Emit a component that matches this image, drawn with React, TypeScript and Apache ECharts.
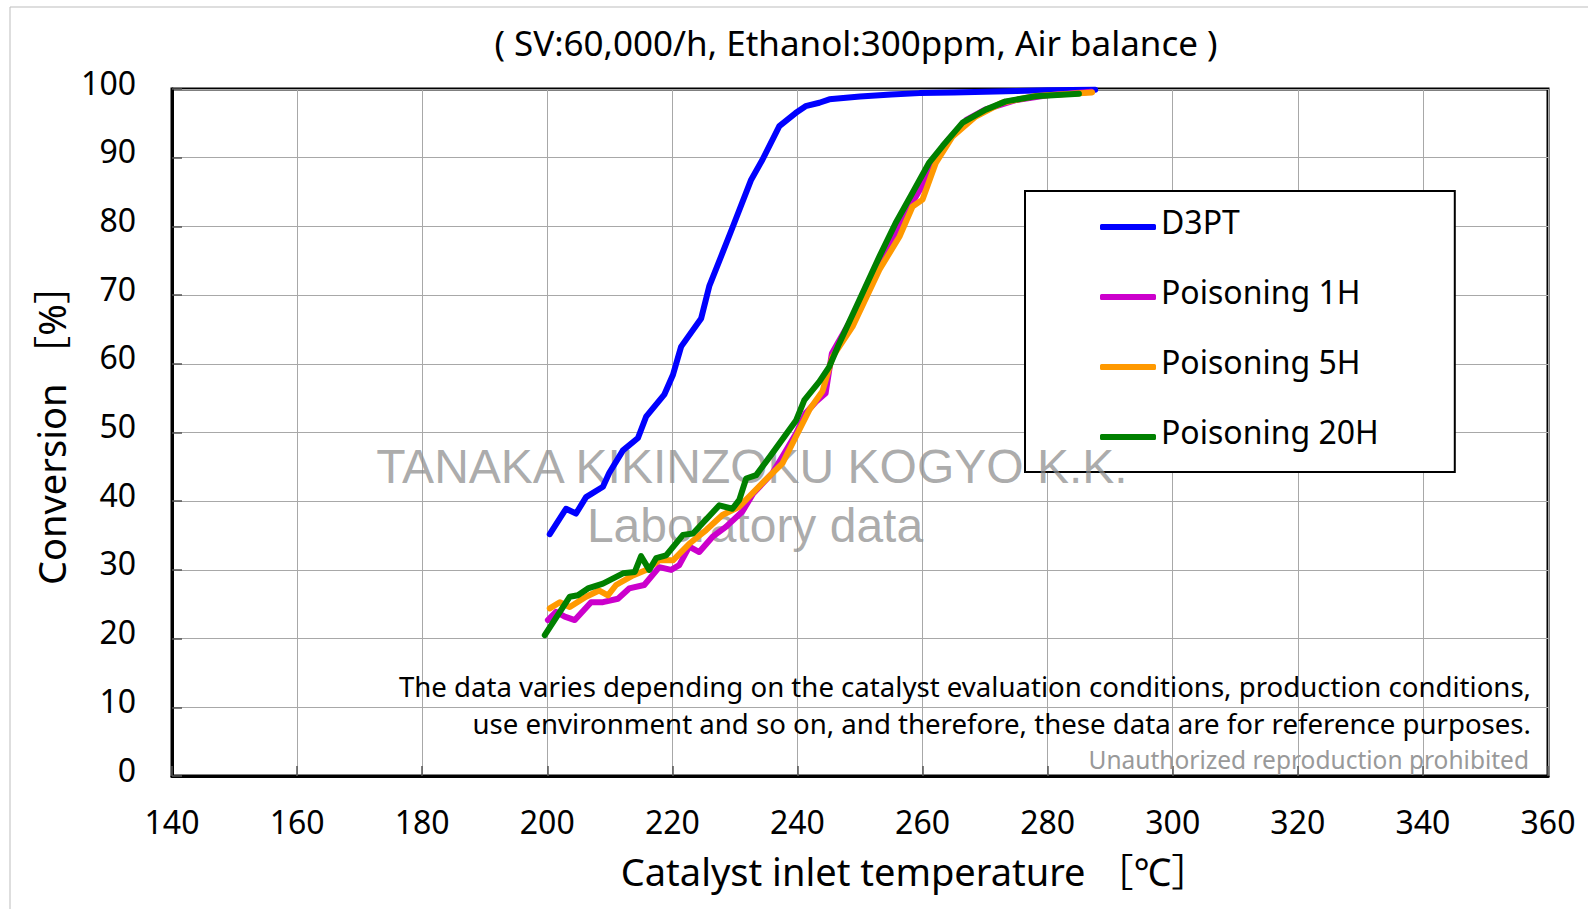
import React, { useEffect, useRef } from "react";
import * as echarts from "echarts";

// ---- Data ----
const seriesNames = ["D3PT", "Poisoning 1H", "Poisoning 5H", "Poisoning 20H"];
const seriesColors = ["#0000ff", "#cc00cc", "#ff9900", "#008000"];

const d3ptTemp = [200.4, 203.0, 204.6, 206.2, 208.9, 209.9, 212.1, 214.5, 215.8, 218.7, 220.1, 221.4, 224.6, 225.9, 228.0, 229.6, 232.6, 234.4, 237.1, 239.7, 241.3, 243.5, 245.1, 250, 255, 259.5, 265, 270, 275, 280, 287.6];
const d3ptConv = [35.2, 38.9, 38.2, 40.6, 42.1, 44.1, 47.4, 49.2, 52.3, 55.5, 58.4, 62.5, 66.6, 71.3, 76.1, 79.8, 86.8, 89.7, 94.6, 96.5, 97.5, 98.0, 98.5, 98.9, 99.2, 99.4, 99.5, 99.6, 99.7, 99.8, 99.9];

const p1hTemp = [200.1, 201.4, 202.8, 204.4, 207.0, 208.9, 211.3, 213.1, 215.5, 217.9, 219.8, 221.1, 222.7, 224.3, 226.4, 228.6, 231.2, 232.9, 236.0, 237.6, 239.8, 241.3, 243.0, 244.5, 245.5, 248, 250, 253, 256, 258.4, 260, 262, 264, 267, 270, 275, 280, 287];
const p1hConv = [22.7, 23.9, 23.2, 22.7, 25.3, 25.3, 25.8, 27.3, 27.8, 30.4, 30.0, 30.7, 33.4, 32.6, 34.8, 36.3, 38.5, 41.1, 44.1, 46.5, 49.9, 52.8, 54.5, 55.7, 61.5, 65.5, 69, 74.5, 79.5, 83.5, 86, 89.5, 92.5, 95.5, 97, 98.4, 99.1, 99.6];

const p5hTemp = [200.4, 202.0, 203.6, 206.2, 208.3, 209.7, 211.0, 213.7, 215.8, 217.9, 220.1, 222.7, 225.4, 228.0, 230.7, 234.9, 237.6, 239.2, 241.9, 244.0, 245.6, 248.8, 253.1, 256.3, 258.4, 260.0, 262.1, 264.8, 268.5, 272.7, 278.1, 287.1];
const p5hConv = [24.4, 25.3, 24.6, 26.1, 27.0, 26.3, 27.8, 29.2, 30.0, 31.4, 31.4, 33.8, 35.8, 38.0, 39.2, 43.1, 45.5, 48.4, 53.3, 56.0, 61.0, 65.4, 73.7, 78.5, 82.9, 83.9, 89.2, 93.1, 96.0, 98.0, 99.0, 99.5];

const p20hTemp = [199.6, 203.6, 204.9, 206.5, 208.9, 212.1, 214.0, 215.0, 216.3, 217.4, 219.0, 221.7, 223.3, 227.5, 229.6, 230.7, 231.8, 233.4, 236.0, 239.8, 241.1, 243.5, 245.1, 246.7, 249.9, 253.1, 255.7, 258.4, 261.0, 263.2, 266.4, 270.1, 273.3, 278.1, 285.0];
const p20hConv = [20.5, 26.1, 26.3, 27.3, 28.0, 29.5, 29.7, 32.0, 30.0, 31.7, 32.1, 35.1, 35.3, 39.4, 38.9, 40.2, 43.3, 43.8, 47.0, 51.8, 54.7, 57.4, 59.6, 63.0, 69.3, 75.6, 80.5, 84.9, 89.2, 91.7, 95.1, 97.0, 98.2, 98.95, 99.3];

const xMin = 140, xMax = 360, xStep = 20;
const yMin = 0, yMax = 100, yStep = 10;

const titleText = "( SV:60,000/h, Ethanol:300ppm, Air balance )";
const xAxisTitle = "Catalyst inlet temperature ［℃］";
const yAxisTitle = "Conversion ［%］";
const watermarkLines = ["TANAKA KIKINZOKU KOGYO K.K.", "Laboratory data"];
const noteLines = [
  "The data varies depending on the catalyst evaluation conditions, production conditions,",
  "use environment and so on, and therefore, these data are for reference purposes.",
];
const noticeText = "Unauthorized reproduction prohibited";

const zip = (a: number[], b: number[]) => a.map((t, i) => [t, b[i]]);
const allSeries = [
  zip(d3ptTemp, d3ptConv),
  zip(p1hTemp, p1hConv),
  zip(p5hTemp, p5hConv),
  zip(p20hTemp, p20hConv),
];

const FONT = "'Noto Sans', 'Noto Sans CJK JP', sans-serif";
const WM_FONT = "'Liberation Sans', Arial, sans-serif";

export default function App() {
  const ref = useRef<HTMLDivElement>(null);
  useEffect(() => {
    if (!ref.current) return;
    const chart = echarts.init(ref.current, undefined, { renderer: "svg" });
    const textEl = (text: string, x: number, y: number, size: number, fill: string, font: string, align: string) => ({
      type: "text",
      silent: true,
      z: 5,
      x,
      y,
      style: { text, fontFamily: font, fontSize: size, fill, align, verticalAlign: "middle" },
    });
    chart.setOption({
      animation: false,
      backgroundColor: "#ffffff",
      textStyle: { fontFamily: FONT },
      title: {
        text: titleText,
        left: 856,
        textAlign: "center",
        top: 25,
        padding: 0,
        textStyle: { fontFamily: FONT, fontSize: 35, fontWeight: "normal", color: "#000" },
      },
      grid: {
        left: 172,
        right: 40,
        top: 89,
        bottom: 133,
        show: true,
        borderColor: "#000",
        borderWidth: 3,
        backgroundColor: "transparent",
      },
      legend: {
        orient: "vertical",
        left: 1025,
        top: 191,
        padding: [14, 76, 13, 75],
        icon: "roundRect",
        itemWidth: 56,
        itemHeight: 6,
        itemGap: 26,
        backgroundColor: "#fff",
        borderColor: "#000",
        borderWidth: 2,
        z: 4,
        formatter: "{t|{name}}",
        textStyle: {
          fontFamily: FONT,
          fontSize: 32,
          color: "#000",
          rich: {
            t: { fontFamily: FONT, fontSize: 32, lineHeight: 40, color: "#000", padding: [0, 0, 12, 0] },
          },
        },
        data: seriesNames,
      },
      xAxis: {
        type: "value",
        min: xMin,
        max: xMax,
        interval: xStep,
        name: xAxisTitle,
        nameLocation: "middle",
        nameGap: 76,
        nameTextStyle: { fontFamily: FONT, fontSize: 38, color: "#000", padding: [0, 0, 0, 110] },
        axisLine: { show: true, lineStyle: { color: "#000", width: 3 } },
        axisTick: { show: true, inside: true, length: 10, lineStyle: { color: "#555", width: 1.5 } },
        axisLabel: { fontFamily: FONT, fontSize: 32, color: "#000", margin: 29 },
        splitLine: { show: true, lineStyle: { color: "#a8a8a8", width: 1 } },
      },
      yAxis: {
        type: "value",
        min: yMin,
        max: yMax,
        interval: yStep,
        name: yAxisTitle,
        nameLocation: "middle",
        nameGap: 102,
        nameTextStyle: { fontFamily: FONT, fontSize: 38, color: "#000", padding: [0, 0, 0, 14] },
        axisLine: { show: true, lineStyle: { color: "#000", width: 3 } },
        axisTick: { show: true, inside: true, length: 10, lineStyle: { color: "#555", width: 1.5 } },
        axisLabel: {
          fontFamily: FONT,
          fontSize: 32,
          color: "#000",
          margin: 36,
          verticalAlign: "bottom",
          lineHeight: 14,
        },
        splitLine: { show: true, lineStyle: { color: "#a8a8a8", width: 1 } },
      },
      graphic: [
        {
          type: "rect",
          silent: true,
          z: -10,
          shape: { x: 10, y: 7, width: 1600, height: 920 },
          style: { fill: "transparent", stroke: "#bdbdbd", lineWidth: 1 },
        },
        textEl(watermarkLines[0], 752, 466, 48, "rgba(140,140,140,0.72)", WM_FONT, "center"),
        textEl(watermarkLines[1], 755, 525, 48, "rgba(140,140,140,0.72)", WM_FONT, "center"),
        textEl(noteLines[0], 1531, 686, 27.6, "#000", FONT, "right"),
        textEl(noteLines[1], 1531, 723, 27.6, "#000", FONT, "right"),
        textEl(noticeText, 1529, 759, 24.5, "#999", FONT, "right"),
      ],
      series: allSeries.map((data, i) => ({
        name: seriesNames[i],
        type: "line",
        data,
        z: 10,
        symbol: "none",
        showSymbol: false,
        smooth: false,
        lineStyle: { color: seriesColors[i], width: 6, cap: "round", join: "round" },
        itemStyle: { color: seriesColors[i] },
      })),
    });
    return () => chart.dispose();
  }, []);
  return (
    <div
      ref={ref}
      style={{ position: "absolute", left: 0, top: 0, width: 1588, height: 909 }}
    />
  );
}
